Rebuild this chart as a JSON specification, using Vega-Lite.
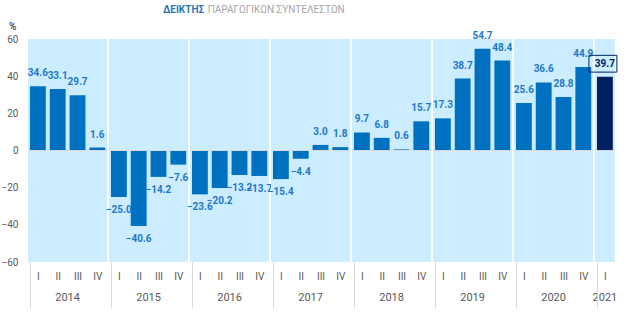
{
  "$schema": "https://vega.github.io/schema/vega-lite/v6.json",
  "background": "white",
  "padding": {"left": 1, "top": 5, "right": 5, "bottom": 5},
  "bounds": "flush",
  "title": {
    "text": "ΔΕΙΚΤΗΣ",
    "subtitle": "\u200b\u00a0\u00a0\u00a0\u00a0\u00a0\u00a0\u00a0\u00a0\u00a0\u00a0\u00a0\u00a0\u00a0\u00a0\u00a0\u00a0\u00a0\u00a0ΠΑΡΑΓΩΓΙΚΩΝ ΣΥΝΤΕΛΕΣΤΩΝ",
    "anchor": "start",
    "frame": "group",
    "dx": 135,
    "font": "Roboto",
    "fontSize": 10,
    "fontWeight": "bold",
    "color": "#2E75B6",
    "subtitleFont": "Roboto",
    "subtitleFontSize": 10,
    "subtitleColor": "#A6A6A6",
    "subtitlePadding": -10,
    "offset": 6
  },
  "data": {
    "values": [
      {"year": "2014", "q": "I", "v": 34.6},
      {"year": "2014", "q": "II", "v": 33.1},
      {"year": "2014", "q": "III", "v": 29.7},
      {"year": "2014", "q": "IV", "v": 1.6},
      {"year": "2015", "q": "I", "v": -25.0},
      {"year": "2015", "q": "II", "v": -40.6},
      {"year": "2015", "q": "III", "v": -14.2},
      {"year": "2015", "q": "IV", "v": -7.6},
      {"year": "2016", "q": "I", "v": -23.6},
      {"year": "2016", "q": "II", "v": -20.2},
      {"year": "2016", "q": "III", "v": -13.2},
      {"year": "2016", "q": "IV", "v": -13.7},
      {"year": "2017", "q": "I", "v": -15.4},
      {"year": "2017", "q": "II", "v": -4.4},
      {"year": "2017", "q": "III", "v": 3.0},
      {"year": "2017", "q": "IV", "v": 1.8},
      {"year": "2018", "q": "I", "v": 9.7},
      {"year": "2018", "q": "II", "v": 6.8},
      {"year": "2018", "q": "III", "v": 0.6},
      {"year": "2018", "q": "IV", "v": 15.7},
      {"year": "2019", "q": "I", "v": 17.3},
      {"year": "2019", "q": "II", "v": 38.7},
      {"year": "2019", "q": "III", "v": 54.7},
      {"year": "2019", "q": "IV", "v": 48.4},
      {"year": "2020", "q": "I", "v": 25.6},
      {"year": "2020", "q": "II", "v": 36.6},
      {"year": "2020", "q": "III", "v": 28.8},
      {"year": "2020", "q": "IV", "v": 44.9},
      {"year": "2021", "q": "I", "v": 39.7}
    ]
  },
  "facet": {
    "column": {
      "field": "year",
      "type": "nominal",
      "header": {
        "labelOrient": "bottom",
        "title": null,
        "labelFont": "Roboto",
        "labelFontSize": 11,
        "labelColor": "#595959",
        "labelPadding": 30
      }
    }
  },
  "spacing": 1,
  "resolve": {"scale": {"x": "independent"}},
  "spec": {
    "width": {"step": 19.8},
    "height": 223,
    "layer": [
      {
        "mark": {"type": "bar"},
        "encoding": {
          "x": {
            "field": "q",
            "type": "nominal",
            "sort": ["I", "II", "III", "IV"],
            "scale": {"paddingInner": 0.2, "paddingOuter": 0.1},
            "axis": {
              "title": null,
              "labelAngle": 0,
              "domain": false,
              "labelColor": "#595959",
              "labelFont": "Roboto",
              "labelFontSize": 10,
              "tickBand": "extent",
              "tickSize": 46,
              "tickColor": {"condition": {"test": "datum.extra", "value": "#D9D9D9"}, "value": "transparent"},
              "labelPadding": -37
            }
          },
          "y": {
            "field": "v",
            "type": "quantitative",
            "scale": {"domain": [-60, 60], "nice": false},
            "axis": {
              "title": "%",
              "titleAngle": 0,
              "titleAlign": "right",
              "titleBaseline": "bottom",
              "titleX": -12,
              "titleY": -8,
              "titleFont": "Roboto",
              "titleFontSize": 10,
              "titleFontWeight": "bold",
              "titleColor": "#595959",
              "values": [-60, -40, -20, 0, 20, 40, 60],
              "tickCount": 7,
              "labelOverlap": false,
              "grid": false,
              "ticks": false,
              "domain": false,
              "labelColor": "#595959",
              "labelFont": "Roboto",
              "labelFontSize": 10,
              "labelPadding": 10
            }
          },
          "color": {"condition": {"test": "datum.year === '2021'", "value": "#002060"}, "value": "#0070C0"}
        }
      },
      {
        "mark": {"type": "rule", "color": "#D9D9D9", "strokeWidth": 1},
        "encoding": {"y": {"datum": 0, "type": "quantitative"}}
      },
      {
        "transform": [{"filter": "datum.v >= 0"}],
        "mark": {"type": "text", "baseline": "middle", "dy": -13, "font": "Roboto", "fontSize": 10, "fontWeight": "bold"},
        "encoding": {
          "x": {"field": "q", "type": "nominal", "sort": ["I", "II", "III", "IV"]},
          "y": {"field": "v", "type": "quantitative"},
          "text": {"field": "v", "type": "quantitative", "format": ".1f"},
          "color": {"condition": {"test": "datum.year === '2021'", "value": "#002060"}, "value": "#1F78C8"}
        }
      },
      {
        "transform": [{"filter": "datum.v < 0"}],
        "mark": {"type": "text", "baseline": "middle", "dy": 13, "font": "Roboto", "fontSize": 10, "fontWeight": "bold"},
        "encoding": {
          "x": {"field": "q", "type": "nominal", "sort": ["I", "II", "III", "IV"]},
          "y": {"field": "v", "type": "quantitative"},
          "text": {"field": "v", "type": "quantitative", "format": ".1f"},
          "color": {"value": "#1F78C8"}
        }
      },
      {
        "transform": [{"filter": "datum.year === '2021'"}],
        "mark": {"type": "point", "shape": "M-1,-0.6H1V0.6H-1Z", "size": 784, "filled": false, "stroke": "#002060", "strokeWidth": 1, "opacity": 1, "yOffset": -13, "xOffset": -2},
        "encoding": {
          "x": {"field": "q", "type": "nominal", "sort": ["I", "II", "III", "IV"]},
          "y": {"field": "v", "type": "quantitative"}
        }
      }
    ]
  },
  "config": {
    "view": {"fill": "#CCECFF", "stroke": null},
    "font": "Roboto"
  }
}
